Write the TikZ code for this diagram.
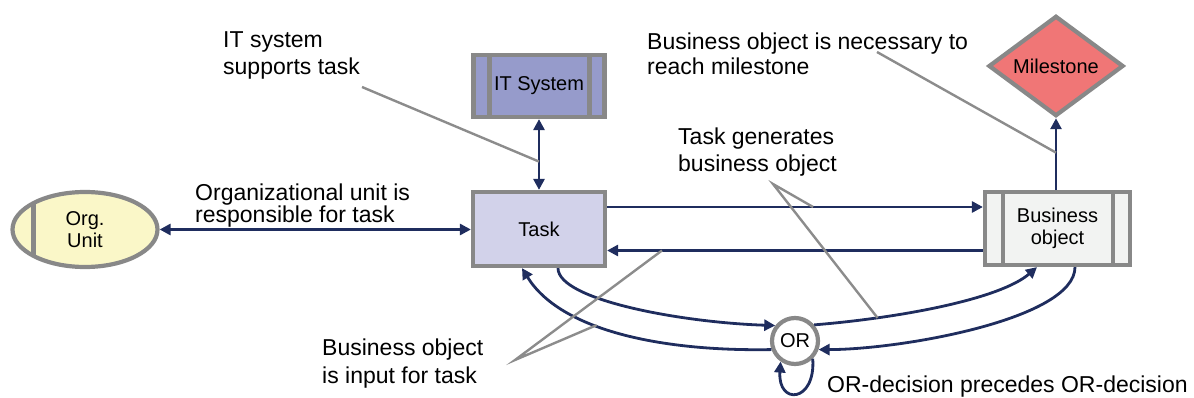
\documentclass[tikz,border=0pt]{standalone}
\usepackage{fontspec}
\setmainfont{Liberation Sans}
\usetikzlibrary{arrows.meta,shapes.geometric,calc}
\definecolor{navy}{RGB}{31,45,94}
\definecolor{bordergrey}{RGB}{136,136,136}
\definecolor{leadgrey}{RGB}{140,140,140}
\definecolor{orgfill}{RGB}{250,247,200}
\definecolor{taskfill}{RGB}{210,210,234}
\definecolor{itfill}{RGB}{150,155,203}
\definecolor{msfill}{RGB}{240,118,118}
\definecolor{bofill}{RGB}{242,243,242}
\newcommand\diagnodefont{\fontsize{20}{22.5}\selectfont}
\newcommand\diaglabelfont{\fontsize{23}{25}\selectfont}
\begin{document}
\begin{tikzpicture}[x=1pt,y=-1pt,
  >={Triangle[length=11pt,width=11pt]},
  box/.style={draw=bordergrey, line width=4.2pt, inner sep=0pt, align=center, font=\diagnodefont},
  bars/.style 2 args={path picture={
    \draw[bordergrey,line width=4.2pt]
      ([xshift=#1]path picture bounding box.north west) -- ([xshift=#1]path picture bounding box.south west)
      ([xshift=-#2]path picture bounding box.north east) -- ([xshift=-#2]path picture bounding box.south east);}},
  leftbar/.style={path picture={
    \draw[bordergrey,line width=4.2pt]
      ([xshift=#1]path picture bounding box.north west) -- ([xshift=#1]path picture bounding box.south west);}},
  conn/.style={draw=navy, line width=2.8pt},
  lead/.style={draw=leadgrey, line width=2.4pt},
  lbl/.style={font=\diaglabelfont, align=left, inner sep=0pt, anchor=base west}
]
\useasboundingbox (0,0) rectangle (1194,398);

% nodes
\node[box, ellipse, fill=orgfill, minimum width=145pt, minimum height=75pt, leftbar=21pt] (org) at (85,229.5) {Org.\\Unit};
\node[box, fill=taskfill, minimum width=132pt, minimum height=74pt] (task) at (539,229) {Task};
\node[box, fill=itfill, minimum width=131pt, minimum height=62pt, bars={16pt}{15pt}] (it) at (539,86) {IT System};
\node[box, fill=bofill, minimum width=145pt, minimum height=73pt, bars={18pt}{17pt}] (bo) at (1057.5,228.5) {Business\\object};
\node[box, diamond, fill=msfill, minimum width=135pt, minimum height=97pt] (ms) at (1056,66) {Milestone};
\node[box, circle, fill=white, minimum size=46pt] (or) at (795,341) {OR};

% connectors
\draw[conn,<->] (org.east) -- (org.east -| task.west);
\draw[conn,<->] (it.south) -- coordinate[pos=0.6] (itp) (task.north);
\draw[conn,->] ([yshift=22pt]task.east) -- coordinate[pos=0.548] (tgp) ([yshift=22pt]task.east -| bo.west);
\draw[conn,->] ([yshift=-22pt]bo.west) -- coordinate[pos=0.854] (bip) ([yshift=-22pt]bo.west -| task.east);
\draw[conn,->] (bo.north -| ms.south) -- coordinate[pos=0.52] (msp) (ms.south);
\draw[conn,->] ([xshift=19pt]task.south) .. controls +(0,32) and +(-93,-3) .. (or.142);
\draw[conn,->] (or.200) .. controls +(-111,2) and +(38,62) .. coordinate[pos=0.59] (bip2) ([xshift=-17pt]task.south);
\draw[conn,->] (or.40) .. controls +(86,-7) and +(-37,32) .. coordinate[pos=0.24] (tgp2) ([xshift=-20.5pt]bo.south);
\draw[conn,->] ([xshift=17.5pt]bo.south) .. controls +(0,52) and +(82,0) .. (or.-20);
\draw[conn,->] (or.-45) .. controls +(3,44) and +(-3,44) .. (or.-125);

% labels (anchor = baseline of the last line)
\node[lbl] (itlab) at (223,75) {IT system\\[2pt]supports task};
\node[lbl] (mslab) at (647,75) {Business object is necessary to\\reach milestone};
\node[lbl] (orglab) at (195,223) {Organizational unit is\\[-2pt]responsible for task};
\node[lbl] (tglab) at (678,172) {Task generates\\[2pt]business object};
\node[lbl] (bilab) at (322,383) {Business object\\[3pt]is input for task};
\node[lbl] (orlab) at (827,392) {OR-decision precedes OR-decision};

% leader lines
\coordinate (itl) at (362,87);
\coordinate (msl) at (877,52);
\coordinate (tga) at (773,184);
\coordinate (bia) at (515,360);
\draw[lead] (itl) -- (itp);
\draw[lead] (msl) -- (msp);
\draw[lead] (tgp) -- (tga) -- (tgp2);
\draw[lead] (bip) -- (bia) -- (bip2);
\end{tikzpicture}
\end{document}
